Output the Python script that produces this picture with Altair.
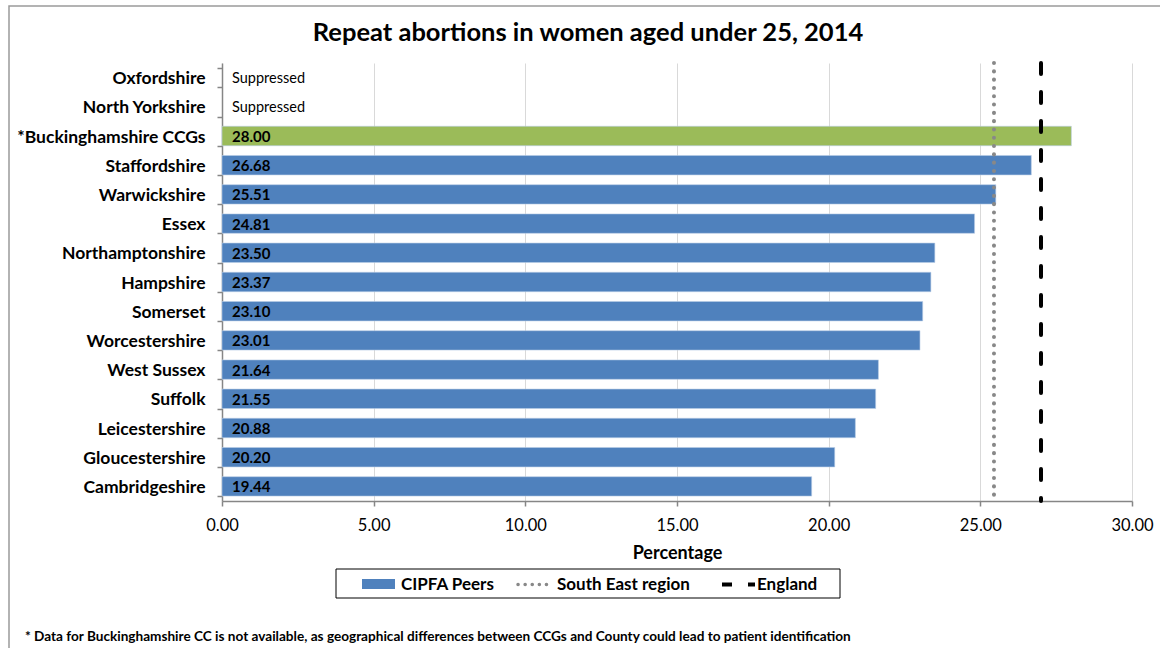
import altair as alt
import pandas as pd

# ---- data ----
categories = ["Oxfordshire", "North Yorkshire", "*Buckinghamshire CCGs", "Staffordshire",
              "Warwickshire", "Essex", "Northamptonshire", "Hampshire", "Somerset",
              "Worcestershire", "West Sussex", "Suffolk", "Leicestershire",
              "Gloucestershire", "Cambridgeshire"]
values = [None, None, 28.00, 26.68, 25.51, 24.81, 23.50, 23.37, 23.10, 23.01,
          21.64, 21.55, 20.88, 20.20, 19.44]
groups = ["CIPFA Peers", "CIPFA Peers", "Buckinghamshire", "CIPFA Peers", "CIPFA Peers",
          "CIPFA Peers", "CIPFA Peers", "CIPFA Peers", "CIPFA Peers", "CIPFA Peers",
          "CIPFA Peers", "CIPFA Peers", "CIPFA Peers", "CIPFA Peers", "CIPFA Peers"]
south_east_value = [25.45]
england_value = [27.0]
x_ticks = [0, 5, 10, 15, 20, 25, 30]

title_text = "Repeat abortions in women aged under 25, 2014"
footnote_text = ("* Data for Buckinghamshire CC is not available, as geographical differences "
                 "between CCGs and County could lead to patient identification")

labels = ["Suppressed" if v is None else f"{v:.2f}" for v in values]
df = pd.DataFrame({"area": categories, "value": values, "group": groups, "label": labels})
one = pd.DataFrame({"k": [0]})

FONT = "Lato"
BLUE = "#4F81BD"
GREEN = "#9BBB59"

y_enc = alt.Y("area:N", sort=categories,
              scale=alt.Scale(paddingInner=0.335, paddingOuter=0.1675),
              axis=alt.Axis(title=None, labelFont=FONT, labelFontWeight="bold",
                            labelFontSize=17.5, labelColor="black", labelPadding=12,
                            labelLimit=400, tickBand="extent", ticks=True, tickSize=5,
                            tickColor="#868686", domainColor="#868686", domainWidth=1.5,
                            tickWidth=1.5, labelOffset=1))
x_enc = alt.X("value:Q", scale=alt.Scale(domain=[0, 30], nice=False),
              axis=alt.Axis(values=x_ticks, format=".2f", grid=True, gridColor="#D9D9D9",
                            gridWidth=1, tickSize=5, tickColor="#868686",
                            domainColor="#868686", domainWidth=1.5, tickWidth=1.5,
                            labelFont=FONT, labelFontSize=16.5, labelColor="black",
                            labelPadding=11, labelFlush=False, labelOverlap=False,
                            title="Percentage", titleFont=FONT,
                            titleFontSize=18, titleFontWeight="bold", titleColor="black",
                            titlePadding=11))

frame = alt.Chart(one).mark_rect(fill=None, stroke="#9A9A9A", strokeWidth=1.5).encode(
    x=alt.value(-213), x2=alt.value(960), y=alt.value(-57), y2=alt.value(620))

bars = alt.Chart(df).transform_filter("isValid(datum.value)").mark_bar(
    stroke="#B9CDE5", strokeWidth=0.6).encode(
    y=y_enc, x=x_enc,
    color=alt.Color("group:N", scale=alt.Scale(domain=["CIPFA Peers", "Buckinghamshire"],
                                               range=[BLUE, GREEN]), legend=None))

value_text = alt.Chart(df).transform_filter("isValid(datum.value)").mark_text(
    align="left", baseline="middle", dx=10, dy=1, font=FONT, fontSize=15,
    fontWeight="bold", color="black").encode(
    y=alt.Y("area:N", sort=categories), x=alt.datum(0), text="label:N")

supp_text = alt.Chart(df).transform_filter("!isValid(datum.value)").mark_text(
    align="left", baseline="middle", dx=10, dy=1, font=FONT, fontSize=14.5,
    color="black").encode(
    y=alt.Y("area:N", sort=categories), x=alt.datum(0), text="label:N")

se_rule = alt.Chart(pd.DataFrame({"value": south_east_value})).mark_rule(
    color="#888888", strokeWidth=4, strokeDash=[0.1, 8.2], strokeCap="round").encode(
    x="value:Q")
eng_rule = alt.Chart(pd.DataFrame({"value": england_value})).mark_rule(
    color="black", strokeWidth=4, strokeDash=[11, 18], strokeCap="round").encode(
    x="value:Q")

title = alt.Chart(one).mark_text(font=FONT, fontSize=25.5, fontWeight="bold", color="black",
                                 align="center", baseline="middle").encode(
    x=alt.value(366), y=alt.value(-30), text=alt.value(title_text))

# legend (manual)
leg_box = alt.Chart(one).mark_rect(fill="white", stroke="black", strokeWidth=1).encode(
    x=alt.value(114), x2=alt.value(618), y=alt.value(506), y2=alt.value(535))
leg_sw = alt.Chart(one).mark_rect(fill=BLUE).encode(
    x=alt.value(140), x2=alt.value(173), y=alt.value(516), y2=alt.value(526))
leg_dot = alt.Chart(one).mark_rule(color="#888888", strokeWidth=3.5, strokeDash=[0.1, 7],
                                   strokeCap="round").encode(
    x=alt.value(296), x2=alt.value(330), y=alt.value(521.5))
leg_dash = alt.Chart(one).mark_rule(color="black", strokeWidth=4, strokeDash=[10, 16]).encode(
    x=alt.value(500), x2=alt.value(533), y=alt.value(521.5))
leg_texts = alt.Chart(pd.DataFrame({"t": ["CIPFA Peers", "South East region", "England"],
                                    "px": [179, 335, 535]})).mark_text(
    font=FONT, fontSize=17, fontWeight="bold", color="black", align="left",
    baseline="middle").encode(x=alt.X("px:Q", scale=None), y=alt.value(522), text="t:N")

footnote = alt.Chart(one).mark_text(font=FONT, fontSize=13.6, fontWeight="bold", color="black",
                                    align="left", baseline="middle").encode(
    x=alt.value(-197), y=alt.value(574), text=alt.value(footnote_text))

chart = alt.layer(frame, bars, value_text, supp_text, se_rule, eng_rule, title,
                  leg_box, leg_sw, leg_dot, leg_dash, leg_texts, footnote).properties(
    width=910, height=438,
    padding={"left": 222, "top": 63, "right": 28, "bottom": 147},
    autosize=alt.AutoSizeParams(type="none"),
    background="white",
).configure_view(stroke=None)

chart.save("out.html", embed_options={"renderer": "svg", "actions": False})
